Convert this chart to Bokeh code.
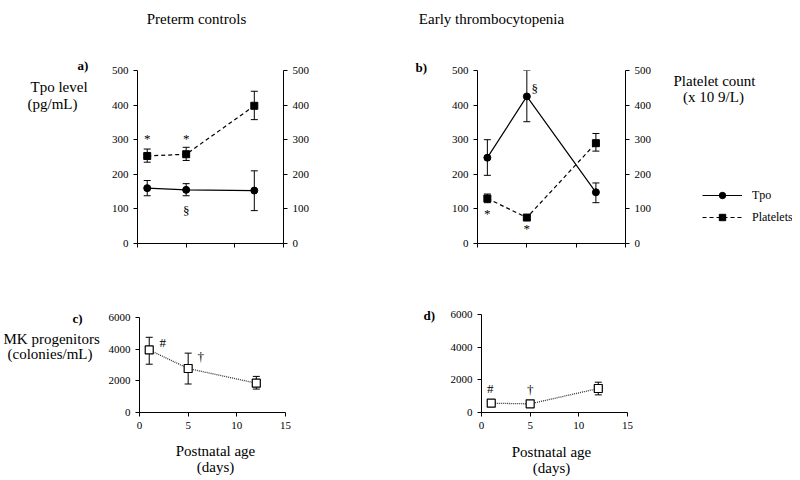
from bokeh.plotting import figure
from bokeh.models import (Range1d, LinearAxis, FixedTicker, Whisker, ColumnDataSource,
                          Label, Legend, LegendItem, TeeHead)
from bokeh.layouts import column, row
from bokeh.core.properties import value
from bokeh.embed import file_html
from bokeh.resources import INLINE

# ---------------- data ----------------
days = [1, 5, 12]

a_tpo = [160, 155, 153]
a_tpo_lo = [138, 138, 95]
a_tpo_hi = [182, 173, 210]
a_plt = [253, 258, 398]
a_plt_lo = [235, 240, 358]
a_plt_hi = [273, 278, 440]

b_tpo = [248, 425, 148]
b_tpo_lo = [197, 352, 118]
b_tpo_hi = [300, 500, 175]
b_plt = [130, 75, 290]
b_plt_lo = [118, 69, 267]
b_plt_hi = [143, 81, 318]

c_mk = [3950, 2780, 1850]
c_mk_lo = [3050, 1800, 1480]
c_mk_hi = [4750, 3750, 2280]

d_mk = [570, 530, 1470]
d_mk_lo = [470, 450, 1080]
d_mk_hi = [680, 610, 1855]

x_ticks = [0, 5, 10, 15]
top_y_ticks = [0, 100, 200, 300, 400, 500]
bottom_y_ticks = [0, 2000, 4000, 6000]

a_marks_x = [1, 5, 5]
a_marks_y = [303, 303, 95]
a_marks_t = ["*", "*", "§"]
b_marks_x = [5.8, 1, 5]
b_marks_y = [448, 87, 43]
b_marks_t = ["§", "*", "*"]
c_marks_x = [2.4, 6.3]
c_marks_y = [4420, 3540]
c_marks_t = ["#", "†"]
d_marks_x = [0.9, 5.0]
d_marks_y = [1470, 1410]
d_marks_t = ["#", "†"]

FONT = "Liberation Serif"


def style_axis(ax, show_labels=True):
    ax.axis_line_color = "black"
    ax.axis_line_width = 1
    ax.major_tick_line_color = "black"
    ax.major_tick_out = 4
    ax.major_tick_in = 0
    ax.minor_tick_line_color = None
    ax.major_label_text_font = FONT
    ax.major_label_text_font_size = "11px"
    ax.major_label_text_color = "black"
    ax.major_label_standoff = 5
    if not show_labels:
        ax.major_label_text_color = None


def make_fig(ymax, yticks, left, fw, right, top, fh, bottom, right_axis=False, xlabels=False):
    p = figure(x_range=Range1d(0, 15), y_range=Range1d(0, ymax),
               frame_width=fw, frame_height=fh,
               min_border_left=left, min_border_right=right,
               min_border_top=top, min_border_bottom=bottom,
               output_backend="svg", toolbar_location=None)
    p.frame_align = False
    p.outline_line_color = None
    p.xgrid.grid_line_color = None
    p.ygrid.grid_line_color = None
    p.xaxis.ticker = FixedTicker(ticks=x_ticks)
    p.yaxis.ticker = FixedTicker(ticks=yticks)
    style_axis(p.xaxis[0], xlabels)
    style_axis(p.yaxis[0])
    if right_axis:
        ax = LinearAxis(ticker=FixedTicker(ticks=yticks))
        style_axis(ax)
        p.add_layout(ax, "right")
    return p


def spacer(left, top, w, h):
    p = figure(x_range=Range1d(0, w), y_range=Range1d(0, h),
               frame_width=w, frame_height=h, min_border=0,
               x_axis_type=None, y_axis_type=None,
               output_backend="svg", toolbar_location=None)
    p.frame_align = False
    p.outline_line_color = None
    p.grid.grid_line_color = None
    p._page = (left, top, h)
    return p


def put(sp, text, px, py, size="15px", align="left", bold=False):
    left, top, h = sp._page
    sp.add_layout(Label(x=px - left, y=top + h - py, x_units="screen", y_units="screen",
                        text=text, text_font=FONT, text_font_size=size,
                        text_align=align, text_baseline="middle", text_color="black",
                        text_font_style="bold" if bold else "normal"))


def whisk(p, lo, hi):
    src = ColumnDataSource(dict(x=days, lo=lo, hi=hi))
    p.add_layout(Whisker(base="x", lower="lo", upper="hi", source=src,
                         line_color="black", line_width=1,
                         upper_head=TeeHead(size=7, line_color="black", line_width=1),
                         lower_head=TeeHead(size=7, line_color="black", line_width=1)))


def marks(p, xs, ys, ts):
    p.text(x=xs, y=ys, text=ts, text_font=value(FONT), text_font_size="13px",
           text_align="center", text_baseline="middle", text_color="black")


# ---------------- top strip ----------------
top_strip = spacer(0, 0, 792, 40)
put(top_strip, "Preterm controls", 196, 18, align="center")
put(top_strip, "Early thrombocytopenia", 491, 18, align="center")

# ---------------- panel a ----------------
ta = spacer(0, 40, 105, 240)
put(ta, "a)", 77, 65, size="13px", bold=True)
put(ta, "Tpo level", 30, 86)
put(ta, "(pg/mL)", 27, 103)

pa = make_fig(500, top_y_ticks, 32, 146, 117, 30, 173, 37, right_axis=True)
whisk(pa, a_tpo_lo, a_tpo_hi)
whisk(pa, a_plt_lo, a_plt_hi)
pa.line(days, a_tpo, line_color="black", line_width=1.2)
pa.scatter(days, a_tpo, marker="circle", size=7, color="black")
pa.line(days, a_plt, line_color="black", line_width=1.2, line_dash="4 3")
pa.scatter(days, a_plt, marker="square", size=7, color="black")
marks(pa, a_marks_x, a_marks_y, a_marks_t)

# ---------------- panel b ----------------
tb = spacer(400, 40, 45, 240)
put(tb, "b)", 415, 67, size="13px", bold=True)

pb = make_fig(500, top_y_ticks, 32, 148, 40, 30, 173, 37, right_axis=True)
whisk(pb, b_tpo_lo, b_tpo_hi)
whisk(pb, b_plt_lo, b_plt_hi)
pb.line(days, b_tpo, line_color="black", line_width=1.2)
pb.scatter(days, b_tpo, marker="circle", size=7, color="black")
pb.line(days, b_plt, line_color="black", line_width=1.2, line_dash="4 3")
pb.scatter(days, b_plt, marker="square", size=7, color="black")
marks(pb, b_marks_x, b_marks_y, b_marks_t)

# legend panel: hidden copies of the series give the legend its glyph styles
tr = spacer(665, 40, 127, 240)
put(tr, "Platelet count", 714, 80, align="center")
put(tr, "(x 10 9/L)", 713, 96, align="center")
l1 = tr.line(days, b_tpo, line_color="black", line_width=1.2, visible=False)
s1 = tr.scatter(days, b_tpo, marker="circle", size=6, color="black", visible=False)
l2 = tr.line(days, b_plt, line_color="black", line_width=1.2, line_dash="4 3", visible=False)
s2 = tr.scatter(days, b_plt, marker="square", size=6, color="black", visible=False)
leg = Legend(items=[LegendItem(label="Tpo", renderers=[l1, s1]),
                    LegendItem(label="Platelets", renderers=[l2, s2])],
             location=(37, 55), orientation="vertical",
             glyph_width=40, glyph_height=16, label_height=16, spacing=6,
             label_standoff=10, padding=0, margin=0,
             label_text_font=FONT, label_text_font_size="12px", label_text_color="black",
             border_line_color=None, background_fill_alpha=0)
tr.add_layout(leg)

# ---------------- panel c ----------------
tc = spacer(0, 280, 105, 157)
put(tc, "c)", 72, 318, size="13px", bold=True)
put(tc, "MK progenitors", 3, 338)
put(tc, "(colonies/mL)", 7, 353)

pc = make_fig(6000, bottom_y_ticks, 32, 146, 117, 37, 95, 25, xlabels=True)
whisk(pc, c_mk_lo, c_mk_hi)
pc.line(days, c_mk, line_color="#333333", line_width=1.3, line_dash="1 1")
pc.scatter(days, c_mk, marker="square", size=8, fill_color="white", line_color="black", line_width=1.2)
marks(pc, c_marks_x, c_marks_y, c_marks_t)

# ---------------- panel d ----------------
td = spacer(400, 280, 45, 157)
put(td, "d)", 421, 315, size="13px", bold=True)

pd_ = make_fig(6000, bottom_y_ticks, 33, 146, 168, 34, 98, 25, xlabels=True)
whisk(pd_, d_mk_lo, d_mk_hi)
pd_.line(days, d_mk, line_color="#333333", line_width=1.3, line_dash="1 1")
pd_.scatter(days, d_mk, marker="square", size=8, fill_color="white", line_color="black", line_width=1.2)
marks(pd_, d_marks_x, d_marks_y, d_marks_t)

# ---------------- bottom strip ----------------
bot_strip = spacer(0, 437, 792, 41)
put(bot_strip, "Postnatal age", 215, 450, align="center")
put(bot_strip, "(days)", 215, 466, align="center")
put(bot_strip, "Postnatal age", 551, 451, align="center")
put(bot_strip, "(days)", 551, 467, align="center")

layout = column(top_strip,
                row(ta, pa, tb, pb, tr),
                row(tc, pc, td, pd_),
                bot_strip)
open("out.html", "w").write(file_html(layout, INLINE))
